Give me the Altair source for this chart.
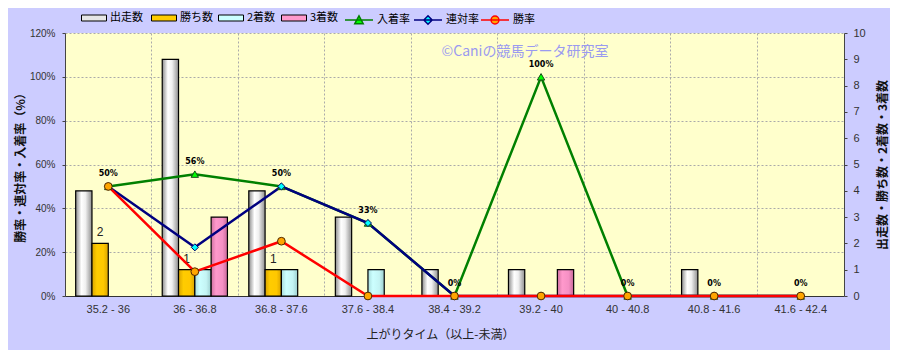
import altair as alt
import pandas as pd

categories = ["35.2 - 36", "36 - 36.8", "36.8 - 37.6", "37.6 - 38.4", "38.4 - 39.2",
              "39.2 - 40", "40 - 40.8", "40.8 - 41.6", "41.6 - 42.4"]
runs = [4, 9, 4, 3, 1, 1, 0, 1, 0]
wins = [2, 1, 1, 0, 0, 0, 0, 0, 0]
seconds = [0, 1, 1, 1, 0, 0, 0, 0, 0]
thirds = [0, 3, 0, 0, 0, 1, 0, 0, 0]
place_rate = [50, 55.6, 50, 33.3, 0, 100, 0, 0, 0]
rentai_rate = [50, 22.2, 50, 33.3, 0, 0, 0, 0, 0]
win_rate = [50, 11.1, 25, 0, 0, 0, 0, 0, 0]
place_labels = ["50%", "56%", "50%", "33%", "0%", "100%", "0%", "0%", "0%"]

bar_series = ["出走数", "勝ち数", "2着数", "3着数"]
bar_colors = ["#E6E6E6", "#FFCC00", "#CCFFFF", "#FF99CC"]
rate_series = ["入着率", "連対率", "勝率"]
rate_colors = ["#008000", "#000080", "#FF0000"]
marker_fills = ["#00FF00", "#00FFFF", "#FFA500"]
watermark = "©Caniの競馬データ研究室"

JP = "Noto Sans CJK JP"
NUM = "Liberation Sans"

# ---------- tables ----------
bar_rows = []
for s, vals in zip(bar_series, [runs, wins, seconds, thirds]):
    for c, v in zip(categories, vals):
        if v > 0:
            bar_rows.append({"category": c, "series": s, "count": v})
bar_df = pd.DataFrame(bar_rows)
win_lab_df = bar_df[bar_df["series"] == "勝ち数"].copy()

rate_rows = []
for s, vals in zip(rate_series, [place_rate, rentai_rate, win_rate]):
    for i, (c, v) in enumerate(zip(categories, vals)):
        rate_rows.append({"category": c, "series": s, "rate": v / 100.0, "idx": i})
rate_df = pd.DataFrame(rate_rows)
place_df = pd.DataFrame({"category": categories, "rate": [v / 100.0 for v in place_rate],
                         "label": place_labels})

# ---------- shared encodings ----------
x_enc = alt.X(
    "category:N",
    scale=alt.Scale(domain=categories, paddingInner=0, paddingOuter=0),
    axis=alt.Axis(
        title="上がりタイム（以上-未満）", titleFont=JP, titleFontSize=12, titleFontWeight="normal",
        titleColor="#222222", titlePadding=15, titleX=375,
        labelFont=NUM, labelFontSize=11, labelColor="#333333", labelAngle=0, labelPadding=7,
        ticks=False, domainColor="#333333", domainWidth=1,
        grid=True, bandPosition=0, gridDash=[2, 2], gridColor="#AAAAAA", gridWidth=1,
    ),
)

count_scale = alt.Scale(domain=[0, 10], nice=False)
rate_scale = alt.Scale(domain=[0, 1.2], nice=False)

y_count = alt.Y(
    "count:Q", scale=count_scale,
    axis=alt.Axis(
        orient="right", values=list(range(0, 11)), grid=False,
        title="出走数・勝ち数・2着数・3着数", titleFont=JP, titleFontSize=12, titleFontWeight="bold",
        titleColor="#111111", titleAngle=270, titlePadding=24,
        labelFont=NUM, labelFontSize=11, labelColor="#333333", labelPadding=6,
        tickSize=3, tickColor="#444444", domainColor="#444444",
    ),
)
y_count_noaxis = alt.Y("count:Q", scale=count_scale, axis=None)

y_rate = alt.Y(
    "rate:Q", scale=rate_scale,
    axis=alt.Axis(
        orient="left", values=[0, 0.2, 0.4, 0.6, 0.8, 1.0, 1.2], format=".0%",
        grid=True, gridDash=[2, 2], gridColor="#AAAAAA", gridWidth=1,
        title="勝率・連対率・入着率（%）", titleFont=JP, titleFontSize=12, titleFontWeight="bold",
        titleColor="#111111", titlePadding=2,
        labelFont=NUM, labelFontSize=10, labelColor="#333333", labelPadding=7,
        tickSize=3, tickColor="#444444", domainColor="#444444",
    ),
)
y_rate_noaxis = alt.Y("rate:Q", scale=rate_scale, axis=None)


def grad(stops):
    return {"gradient": "linear", "x1": 0, "x2": 1, "y1": 0, "y2": 0,
            "stops": [{"offset": o, "color": c} for o, c in stops]}


grads = [
    grad([(0, "#8C8C8C"), (0.35, "#FFFFFF"), (0.6, "#F0F0F0"), (1, "#909090")]),
    grad([(0, "#D9A400"), (0.3, "#FFCC00"), (0.7, "#FFC800"), (1, "#D9A400")]),
    grad([(0, "#A8DCDC"), (0.3, "#CCFFFF"), (0.7, "#C4F4F4"), (1, "#9CCFCF")]),
    grad([(0, "#D070A0"), (0.3, "#FF99CC"), (0.7, "#F590C4"), (1, "#C86898")]),
]
bar_legend_x = [16, 86, 153, 216]
LEG_Y = -28

xoff = alt.XOffset("series:N", scale=alt.Scale(domain=bar_series, paddingInner=0, paddingOuter=0.655))

bars = []
for k, (s, col, g, lx) in enumerate(zip(bar_series, bar_colors, grads, bar_legend_x)):
    bars.append(
        alt.Chart(bar_df).transform_filter(f"datum.series === '{s}'").mark_bar(
            stroke="#000000", strokeWidth=1.2
        ).encode(
            x=x_enc, xOffset=xoff,
            y=y_count if k == 0 else y_count_noaxis,
            fill=alt.Fill(
                "series:N",
                scale=alt.Scale(domain=[s], range=[col]),
                legend=alt.Legend(
                    title=None, orient="none", legendX=lx, legendY=LEG_Y,
                    symbolType="M-1,-0.24H1V0.24H-1Z", symbolSize=625, symbolStrokeColor="#000000",
                    symbolStrokeWidth=1, symbolOpacity=1,
                    labelFont=JP, labelFontSize=11, labelColor="#000000", labelOffset=3,
                ),
                condition=[{"test": "true", "value": g}],
            ),
        )
    )

win_text = alt.Chart(win_lab_df).mark_text(
    baseline="bottom", dy=-4, font=NUM, fontSize=12, color="#222222"
).encode(x=x_enc, xOffset=xoff, y=y_count_noaxis, text="count:Q")

marker_path = {
    "入着率": "M-1,0H1M-0.3,0.26L0,-0.3L0.3,0.26Z",
    "連対率": "M-1,0H1M-0.3,0L0,-0.3L0.3,0L0,0.3Z",
    "勝率": "M-1,0H1M-0.28,0A0.28,0.28,0,1,0,0.28,0A0.28,0.28,0,1,0,-0.28,0Z",
}
legend_x = {"入着率": 279, "連対率": 348, "勝率": 415}

lines = []
for k, (s, col, mf) in enumerate(zip(rate_series, rate_colors, marker_fills)):
    lines.append(
        alt.Chart(rate_df).transform_filter(f"datum.series === '{s}'").mark_line(strokeWidth=2.5).encode(
            x=x_enc,
            y=y_rate if k == 0 else y_rate_noaxis,
            order=alt.Order("idx:Q"),
            stroke=alt.Stroke(
                "series:N",
                scale=alt.Scale(domain=[s], range=[col]),
                legend=alt.Legend(
                    title=None, orient="none", legendX=legend_x[s], legendY=LEG_Y,
                    symbolType=marker_path[s], symbolSize=784, symbolStrokeWidth=1.5,
                    symbolFillColor=mf, symbolOpacity=1,
                    labelFont=JP, labelFontSize=11, labelColor="#000000", labelOffset=3,
                ),
            ),
        )
    )

point_styles = [("入着率", "triangle-up", 55, "#00FF00", "#1A4D1A"),
                ("連対率", "diamond", 50, "#00FFFF", "#000060"),
                ("勝率", "circle", 60, "#FFA500", "#4D2600")]
points = [
    alt.Chart(rate_df).transform_filter(f"datum.series === '{s}'").mark_point(
        shape=shp, size=sz, filled=True, fill=fc, stroke=sc, strokeWidth=1, opacity=1
    ).encode(x=x_enc, y=y_rate_noaxis)
    for s, shp, sz, fc, sc in point_styles
]

place_text = alt.Chart(place_df).mark_text(
    baseline="bottom", dy=-8, font="DejaVu Sans", fontSize=8, fontWeight="bold", color="#000000"
).encode(x=x_enc, y=y_rate_noaxis, text="label:N")

wm = alt.Chart(pd.DataFrame({"t": [watermark]})).mark_text(
    font=JP, fontSize=14, color="#9A9AF0", align="center", baseline="middle"
).encode(x=alt.value(460), y=alt.value(19), text="t:N")

chart = alt.layer(*bars, win_text, *lines, *points, place_text, wm).resolve_scale(
    y="independent", stroke="independent", fill="independent"
).properties(
    width=779, height=263,
    autosize=alt.AutoSizeParams(type="none"),
    padding={"left": 57, "top": 25, "right": 46, "bottom": 54},
    background="#CCCCFF",
).configure_view(fill="#FFFFCC", stroke=None)

chart.save("out.html", embed_options={"renderer": "svg", "actions": False})
